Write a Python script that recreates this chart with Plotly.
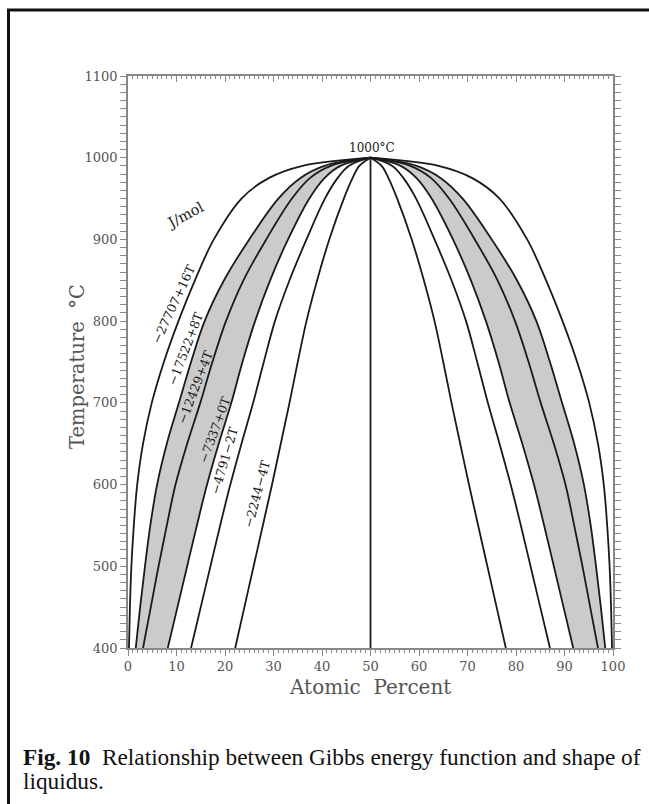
import plotly.graph_objects as go

# Liquidus temperatures (°C) at which compositions were read
temps = [400, 450, 500, 550, 600, 650, 700, 750, 800, 850, 900, 950, 975, 990, 1000]

# Left-branch liquidus compositions (at.%) for each Gibbs energy function (J/mol)
liq_27707 = [0.2, 0.4, 0.7, 1.2, 1.9, 3.1, 4.9, 7.4, 10.4, 13.8, 17.7, 23.4, 29.0, 36.0, 50.0]
liq_17522 = [1.6, 2.5, 3.5, 4.6, 6.0, 8.0, 10.5, 13.0, 15.8, 19.8, 25.0, 31.0, 35.5, 40.5, 50.0]
liq_12429 = [3.1, 4.7, 6.3, 8.0, 9.8, 12.2, 14.9, 17.4, 20.2, 23.8, 28.5, 33.8, 37.5, 41.8, 50.0]
liq_7337 = [8.2, 10.2, 12.2, 14.2, 16.3, 18.7, 21.3, 23.6, 26.2, 29.3, 33.0, 37.4, 40.5, 43.8, 50.0]
liq_4791 = [13.0, 15.0, 17.0, 19.0, 21.1, 23.4, 25.8, 28.0, 30.3, 33.3, 36.8, 40.6, 43.2, 45.5, 50.0]
liq_2244 = [22.1, 24.0, 25.9, 27.8, 29.7, 31.5, 33.3, 35.0, 36.8, 39.0, 41.5, 44.5, 46.3, 47.7, 50.0]

curve_labels = ["−27707+16T", "−17522+8T", "−12429+4T", "−7337+0T", "−4791−2T", "−2244−4T"]
curves = [liq_27707, liq_17522, liq_12429, liq_7337, liq_4791, liq_2244]

x_ticks = [0, 10, 20, 30, 40, 50, 60, 70, 80, 90, 100]
y_ticks = [400, 500, 600, 700, 800, 900, 1000, 1100]

SERIF = "DejaVu Serif, Bitstream Vera Serif, serif"
TIMES = "Liberation Serif, Times New Roman, serif"
AXIS_GREY = "#888"

W, H = 649, 804
L, R, T, B = 128, 36, 76, 156
PW, PH = W - L - R, H - T - B


def px(xp):
    return (xp - L) / PW


def py(yp):
    return (H - B - yp) / PH


def mirror(xs):
    return [100 - v for v in xs]


fig = go.Figure()

# Grey band between the -17522+8T and -7337+0T liquidi, on both branches
for right in (False, True):
    xo = mirror(liq_17522) if right else liq_17522
    xi = mirror(liq_7337) if right else liq_7337
    fig.add_trace(go.Scatter(
        x=xo + xi[::-1], y=temps + temps[::-1],
        mode="lines", fill="toself", fillcolor="#cbcbcb",
        line=dict(width=0, shape="spline", smoothing=1.0),
        hoverinfo="skip", showlegend=False))

for xs in curves:
    for branch in (xs, mirror(xs)):
        fig.add_trace(go.Scatter(
            x=branch, y=temps, mode="lines",
            line=dict(color="#1a1a1a", width=1.8, shape="spline", smoothing=1.0),
            showlegend=False, hoverinfo="skip"))

# Congruent composition
fig.add_trace(go.Scatter(x=[50, 50], y=[400, 1000], mode="lines",
                         line=dict(color="#1a1a1a", width=1.8),
                         showlegend=False, hoverinfo="skip"))

# Empty trace so the top overlay axis (inward ticks) is drawn
fig.add_trace(go.Scatter(x=[], y=[], xaxis="x2", yaxis="y", mode="lines",
                         showlegend=False, hoverinfo="skip"))

label_pos = [(9.5, 821, -65), (11.8, 767, -69), (13.9, 720, -69),
             (17.8, 668, -70), (19.9, 629, -74), (26.6, 589, -75)]
for text, (lx, ly, ang) in zip(curve_labels, label_pos):
    fig.add_annotation(x=lx, y=ly, text=text, showarrow=False, textangle=ang,
                       xanchor="center", yanchor="middle",
                       font=dict(family=SERIF, size=12.5, color="#1a1a1a"))

fig.add_annotation(x=11.8, y=930, text="J/mol", showarrow=False, textangle=-28,
                   xanchor="center", yanchor="middle",
                   font=dict(family=SERIF, size=14.5, color="#1a1a1a"))
fig.add_annotation(x=50.4, y=1012, text="1000°C", showarrow=False,
                   xanchor="center", yanchor="middle",
                   font=dict(family=SERIF, size=12, color="#1a1a1a"))

# Axis titles
fig.add_annotation(xref="paper", yref="paper", x=px(370), y=py(687), text="Atomic  Percent",
                   xanchor="center", yanchor="middle", showarrow=False,
                   font=dict(family=SERIF, size=20, color="#555"))
fig.add_annotation(xref="paper", yref="paper", x=px(77), y=py(367), text="Temperature  °C",
                   xanchor="center", yanchor="middle", textangle=-90, showarrow=False,
                   font=dict(family=SERIF, size=19.5, color="#555"))

# Caption
fig.add_annotation(xref="paper", yref="paper", x=px(21), y=py(757),
                   xanchor="left", yanchor="middle",
                   text="<b>Fig. 10</b>  Relationship between Gibbs energy function and shape of",
                   showarrow=False, font=dict(family=TIMES, size=23.3, color="#111"))
fig.add_annotation(xref="paper", yref="paper", x=px(21), y=py(781),
                   xanchor="left", yanchor="middle",
                   text="liquidus.", showarrow=False,
                   font=dict(family=TIMES, size=23.3, color="#111"))

# Page frame
fig.add_shape(type="line", xref="paper", yref="paper", x0=px(7), x1=px(660), y0=py(10), y1=py(10),
              line=dict(color="#111", width=3))
fig.add_shape(type="line", xref="paper", yref="paper", x0=px(8.5), x1=px(8.5), y0=py(9), y1=py(820),
              line=dict(color="#111", width=3))

tickfont = dict(family=SERIF, size=13, color="#555")

# Bottom axis with labelled ticks; top edge carries inward ticks on an overlay axis
fig.update_xaxes(range=[0, 100], tickvals=x_ticks, showline=True, linecolor=AXIS_GREY,
                 linewidth=1.5, mirror=True, ticks="outside", tickcolor=AXIS_GREY,
                 ticklen=6, tickwidth=1.3, showgrid=False, zeroline=False, tickfont=tickfont,
                 minor=dict(dtick=1, ticks="outside", ticklen=3, tickcolor=AXIS_GREY, tickwidth=1))
fig.update_yaxes(range=[400, 1100], tickvals=y_ticks, showline=True, linecolor=AXIS_GREY,
                 linewidth=1.5, mirror="allticks", ticks="outside", tickcolor=AXIS_GREY,
                 ticklen=6, tickwidth=1.3, showgrid=False, zeroline=False, tickfont=tickfont,
                 minor=dict(dtick=10, ticks="outside", ticklen=3, tickcolor=AXIS_GREY, tickwidth=1))

fig.update_layout(
    xaxis2=dict(overlaying="x", side="top", anchor="y", range=[0, 100], tickvals=x_ticks,
                showticklabels=False, showline=False, ticks="inside", tickcolor=AXIS_GREY,
                ticklen=6, tickwidth=1.3, showgrid=False, zeroline=False,
                minor=dict(dtick=1, ticks="inside", ticklen=3, tickcolor=AXIS_GREY, tickwidth=1)),
    width=W, height=H, autosize=False,
    margin=dict(l=L, r=R, t=T, b=B, pad=0),
    plot_bgcolor="white", paper_bgcolor="white")

fig.write_html("out.html")
